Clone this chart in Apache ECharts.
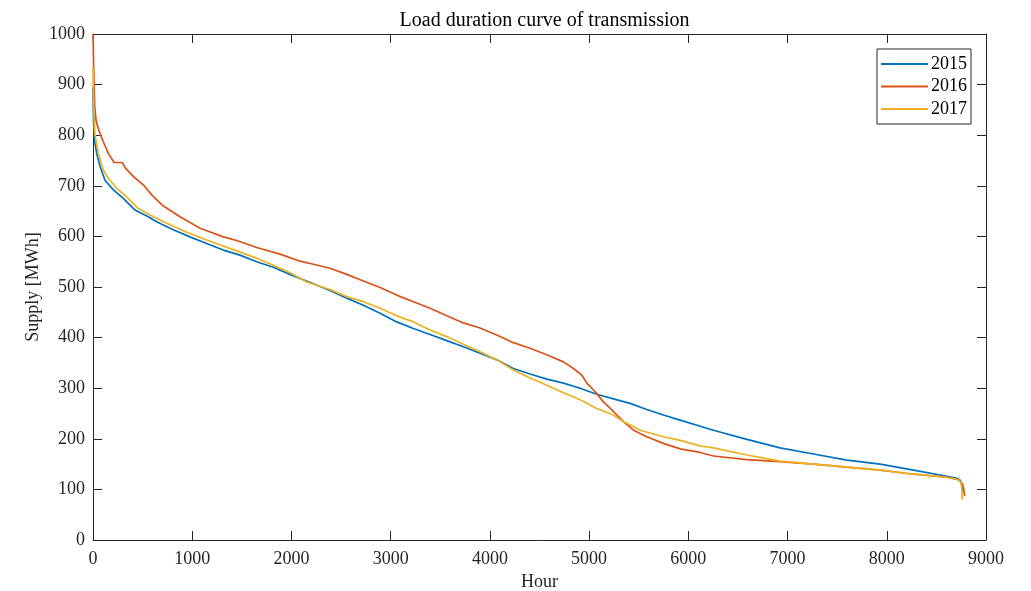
<!DOCTYPE html>
<html>
<head>
<meta charset="utf-8">
<script src="https://cdn.jsdelivr.net/npm/echarts@6/dist/echarts.min.js"></script>
<style>
html,body{margin:0;padding:0;background:#fff;}
#chart{width:1031px;height:591px;}
</style>
</head>
<body>
<div id="chart"></div>
<script>
const seriesNames = ['2015', '2016', '2017'];
const xTicks = [0, 1000, 2000, 3000, 4000, 5000, 6000, 7000, 8000, 9000];
const yTicks = [0, 100, 200, 300, 400, 500, 600, 700, 800, 900, 1000];

const hours2015 = [0, 2, 5, 10, 20, 37, 71, 121, 205, 306, 423, 557, 641, 809, 977, 1145, 1313, 1481, 1649, 1817, 1985, 2188, 2389, 2557, 2725, 2893, 3061, 3229, 3397, 3565, 3733, 3901, 4069, 4237, 4405, 4573, 4741, 4909, 5077, 5245, 5413, 5581, 5749, 5917, 6253, 6590, 6925, 7261, 7598, 7933, 8270, 8606, 8707, 8740, 8755, 8760];
const supply2015 = [895, 860, 830, 810, 785, 764, 738, 711, 692, 675, 652, 639, 629, 613, 599, 586, 573, 563, 550, 539, 525, 509, 493, 478, 464, 448, 431, 418, 406, 394, 382, 369, 356, 339, 328, 318, 310, 300, 288, 279, 270, 258, 247, 237, 217, 199, 182, 170, 158, 150, 138, 126, 122, 118, 110, 96];

const hours2016 = [0, 3, 7, 11, 18, 30, 45, 70, 104, 154, 212, 296, 323, 407, 507, 591, 709, 877, 1079, 1314, 1448, 1650, 1885, 2087, 2221, 2389, 2557, 2725, 2893, 3061, 3229, 3397, 3565, 3733, 3901, 4069, 4237, 4405, 4573, 4741, 4842, 4926, 4977, 5061, 5144, 5245, 5346, 5447, 5581, 5749, 5917, 6119, 6253, 6590, 6925, 7261, 7598, 7933, 8270, 8606, 8723, 8760, 8775, 8784];
const supply2016 = [1000, 975, 930, 895, 855, 830, 818, 804, 787, 764, 746, 746, 736, 718, 702, 682, 660, 639, 616, 599, 592, 578, 565, 551, 545, 537, 525, 512, 499, 484, 471, 458, 443, 429, 419, 405, 390, 379, 366, 352, 339, 326, 310, 293, 273, 254, 234, 217, 204, 191, 180, 173, 166, 159, 155, 150, 144, 138, 130, 124, 119, 112, 102, 87];

const hours2017 = [0, 3, 6, 10, 20, 54, 104, 154, 239, 339, 457, 608, 743, 911, 1145, 1313, 1481, 1649, 1817, 1985, 2154, 2389, 2557, 2725, 2893, 3061, 3229, 3397, 3565, 3733, 3901, 4069, 4237, 4405, 4573, 4741, 4909, 5077, 5245, 5346, 5514, 5749, 5917, 6119, 6253, 6590, 6925, 7261, 7598, 7933, 8270, 8606, 8723, 8750, 8757, 8760];
const supply2017 = [935, 890, 860, 836, 800, 764, 731, 715, 695, 678, 655, 639, 626, 611, 593, 581, 569, 557, 543, 528, 510, 495, 481, 471, 458, 443, 431, 415, 402, 387, 372, 356, 336, 320, 306, 291, 277, 260, 247, 234, 217, 204, 197, 186, 182, 168, 156, 150, 144, 138, 130, 124, 119, 112, 100, 80];

function pairs(h, v) { return h.map((x, i) => [x, v[i]]); }

const font = '"Liberation Serif", "DejaVu Serif", serif';
const axisColor = '#262626';
const colors = ['#0072BD', '#D95319', '#EDB120'];

const chart = echarts.init(document.getElementById('chart'), null, {renderer: 'canvas'});

const xBase = {
  type: 'value', min: xTicks[0], max: xTicks[xTicks.length - 1], interval: 1000,
  axisLine: {show: true, onZero: false, lineStyle: {color: axisColor, width: 1}},
  axisTick: {show: true, inside: true, length: 9, lineStyle: {color: axisColor}},
  splitLine: {show: false}
};
const yBase = {
  type: 'value', min: yTicks[0], max: yTicks[yTicks.length - 1], interval: 100,
  axisLine: {show: true, onZero: false, lineStyle: {color: axisColor, width: 1}},
  axisTick: {show: true, inside: true, length: 9, lineStyle: {color: axisColor}},
  splitLine: {show: false}
};

const option = {
  animation: false,
  backgroundColor: '#ffffff',
  color: colors,
  title: {
    text: 'Load duration curve of transmission',
    left: 539.5, top: 6, textAlign: 'center',
    textStyle: {fontFamily: font, fontSize: 20, fontWeight: 'normal', color: '#000'}
  },
  grid: {left: 93, right: 45, top: 34, bottom: 51, containLabel: false, outerBoundsMode: 'none'},
  legend: {
    orient: 'vertical', right: 60, top: 49,
    data: seriesNames,
    icon: 'rect', itemWidth: 47, itemHeight: 2, itemGap: 4.5,
    backgroundColor: '#fff', borderColor: axisColor, borderWidth: 1,
    padding: [6, 4, 6, 4],
    textStyle: {fontFamily: font, fontSize: 18, color: '#000', padding: [0, 0, 0, -2]}
  },
  xAxis: [
    Object.assign({}, xBase, {
      position: 'bottom', name: 'Hour', nameLocation: 'middle', nameGap: 33, nameMoveOverlap: false,
      nameTextStyle: {fontFamily: font, fontSize: 18, color: '#262626'},
      axisLabel: {show: true, margin: 10, fontFamily: font, fontSize: 18, color: '#262626', formatter: v => String(v)}
    }),
    Object.assign({}, xBase, {position: 'top', axisLabel: {show: false}})
  ],
  yAxis: [
    Object.assign({}, yBase, {
      position: 'left', name: 'Supply [MWh]', nameLocation: 'middle', nameGap: 51, nameMoveOverlap: false,
      nameTextStyle: {fontFamily: font, fontSize: 18, color: '#262626'},
      axisLabel: {show: true, margin: 8, fontFamily: font, fontSize: 18, color: '#262626', formatter: v => String(v)}
    }),
    Object.assign({}, yBase, {position: 'right', axisLabel: {show: false}})
  ],
  series: [
    {name: seriesNames[0], type: 'line', data: pairs(hours2015, supply2015), showSymbol: false, lineStyle: {width: 1.7, color: colors[0]}, itemStyle: {color: colors[0]}, xAxisIndex: 0, yAxisIndex: 0},
    {name: seriesNames[1], type: 'line', data: pairs(hours2016, supply2016), showSymbol: false, lineStyle: {width: 1.7, color: colors[1]}, itemStyle: {color: colors[1]}, xAxisIndex: 0, yAxisIndex: 0},
    {name: seriesNames[2], type: 'line', data: pairs(hours2017, supply2017), showSymbol: false, lineStyle: {width: 1.7, color: colors[2]}, itemStyle: {color: colors[2]}, xAxisIndex: 0, yAxisIndex: 0}
  ]
};
chart.setOption(option);
</script>
</body>
</html>
